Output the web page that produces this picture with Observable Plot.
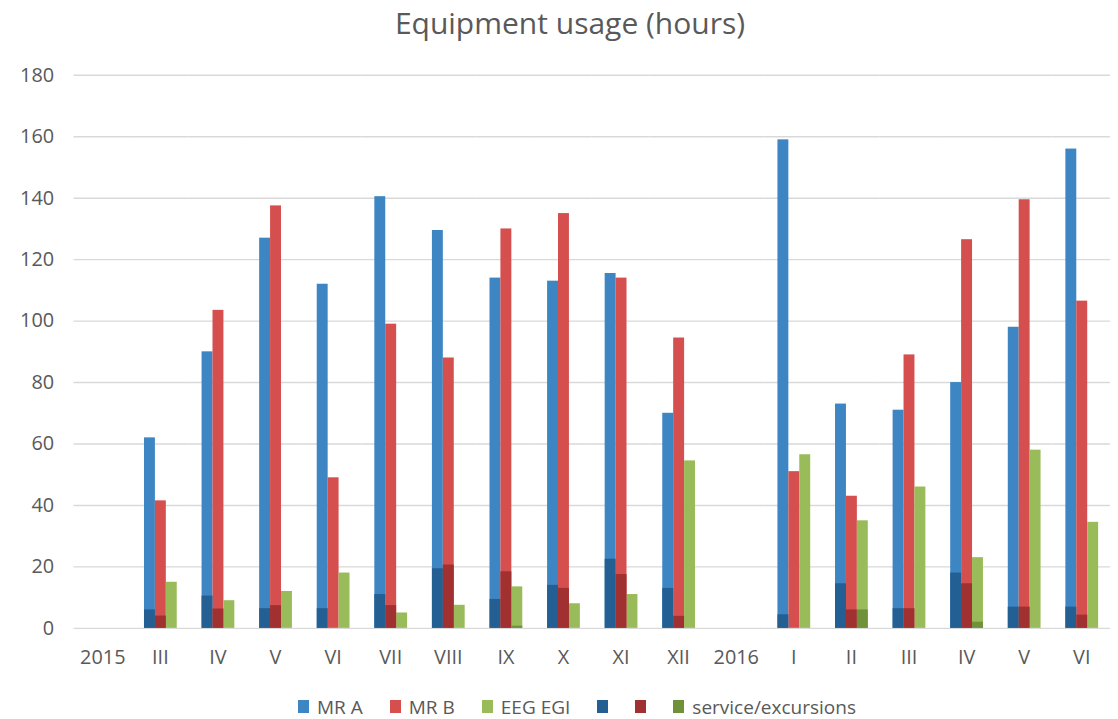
<!DOCTYPE html>
<html><head><meta charset="utf-8">
<script src="https://cdn.jsdelivr.net/npm/d3@7"></script>
<script src="https://cdn.jsdelivr.net/npm/@observablehq/plot@0.6"></script>
<style>
html,body{margin:0;padding:0;background:#fff;overflow:hidden}
body{width:1118px;font-family:"Open Sans",sans-serif;color:#595959}
#title{height:50px;text-align:center;font-size:30px;line-height:46px;color:#595959;padding-left:22px}
#chart svg{display:block}
#legend{display:flex;justify-content:center;align-items:center;gap:27px;font-size:19px;line-height:16px;margin-top:26px;padding-left:36px}
#legend .item{display:flex;align-items:center;gap:8px}
#legend .sw{width:11px;height:13px;display:inline-block}
</style></head><body>
<div id="title">Equipment usage (hours)</div>
<div id="chart"></div>
<div id="legend"></div>
<script>
const categories = ["2015","III","IV","V","VI","VII","VIII","IX","X","XI","XII","2016","I","II","III","IV","V","VI"];
const seriesNames = ["MR A","MR B","EEG EGI"];
const mrA  = [null, 62, 90, 127, 112, 140.5, 129.5, 114, 113, 115.5, 70, null, 159, 73, 71, 80, 98, 156];
const mrB  = [null, 41.5, 103.5, 137.5, 49, 99, 88, 130, 135, 114, 94.5, null, 51, 43, 89, 126.5, 139.5, 106.5];
const eeg  = [null, 15, 9, 12, 18, 5, 7.5, 13.5, 8, 11, 54.5, null, 56.5, 35, 46, 23, 58, 34.5];
const mrAService = [null, 6, 10.5, 6.4, 6.4, 11, 19.4, 9.4, 14, 22.5, 13, null, 4.4, 14.5, 6.4, 18, 6.9, 6.9];
const mrBService = [null, 4, 6.3, 7.4, 0, 7.4, 20.6, 18.4, 13, 17.5, 3.9, null, 0, 6, 6.4, 14.5, 6.9, 4.3];
const eegService = [null, 0, 0, 0, 0, 0, 0, 0.7, 0, 0, 0, null, 0, 6, 0, 2, 0, 0];
const yTicks = [0, 20, 40, 60, 80, 100, 120, 140, 160, 180];
const mainColors = ["#3d86c3", "#d44f4e", "#99bb59"];
const darkColors = ["#235f92", "#a03130", "#6f9139"];
const legendLabels = ["MR A", "MR B", "EEG EGI", "", "", "service/excursions"];

const keys = categories.map((c, i) => i + ":" + c);
const totals = [mrA, mrB, eeg];
const services = [mrAService, mrBService, eegService];
const rows = [];
keys.forEach((k, i) => {
  seriesNames.forEach((s, j) => {
    if (totals[j][i] != null) rows.push({key: k, series: s, total: totals[j][i], service: services[j][i], dark: darkColors[j]});
  });
});
const facetRows = keys.map(k => ({key: k}));

const chart = Plot.plot({
  width: 1126,
  height: 627,
  marginLeft: 67,
  marginRight: 1,
  marginTop: 25,
  marginBottom: 45,
  style: {fontFamily: "'Open Sans', sans-serif", color: "#595959", background: "#fff"},
  fx: {domain: keys, padding: 0, label: null},
  x: {domain: seriesNames, paddingInner: 0, paddingOuter: 1.07, axis: null},
  y: {domain: [0, 180], label: null},
  color: {domain: seriesNames, range: mainColors},
  marks: [
    Plot.ruleY(facetRows, {fx: "key", y: () => 0, stroke: "transparent"}),
    Plot.gridY(yTicks, {stroke: "#d9d9d9", strokeOpacity: 1, strokeWidth: 1.4}),
    Plot.axisY(yTicks, {tickSize: 0, tickPadding: 20, fontSize: 20, fill: "#595959", label: null}),
    Plot.axisFx({anchor: "bottom", tickSize: 0, tickPadding: 22, fontSize: 20, fill: "#595959", label: null, tickFormat: k => k.split(":")[1]}),
    Plot.barY(rows, {fx: "key", x: "series", y: "total", fill: "series"}),
    Plot.barY(rows.filter(d => d.service > 0), {fx: "key", x: "series", y: "service", fill: "dark"})
  ]
});
document.getElementById("chart").appendChild(chart);

const legend = document.getElementById("legend");
const swatches = mainColors.concat(darkColors);
legendLabels.forEach((lab, i) => {
  const it = document.createElement("div");
  it.className = "item";
  const sw = document.createElement("span");
  sw.className = "sw";
  sw.style.background = swatches[i];
  it.appendChild(sw);
  if (lab) { const t = document.createElement("span"); t.textContent = lab; it.appendChild(t); }
  legend.appendChild(it);
});
</script>
</body></html>
